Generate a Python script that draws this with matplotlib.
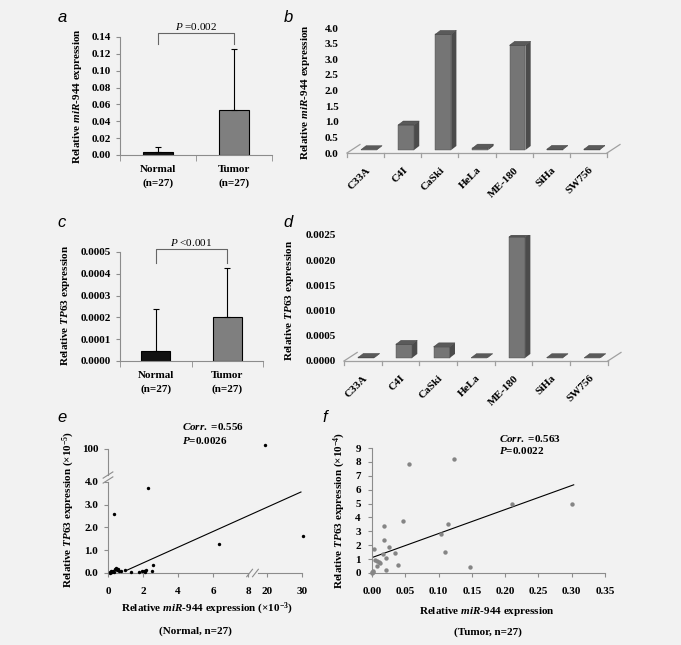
import matplotlib
matplotlib.use("Agg")
import matplotlib.pyplot as plt
from matplotlib.patches import Polygon
import numpy as np


W, H = 681, 645
BG = "#f2f2f2"
AXIS_GRAY = "#8c8c8c"

# panels a and c: mean expression with upper SD
groups = ["Normal\n(n=27)", "Tumor\n(n=27)"]
mir944_mean = [0.003, 0.053]
mir944_err = [0.007, 0.073]
tp63_mean = [0.000045, 0.0002]
tp63_err = [0.000192, 0.000225]

# panels b and d: cell lines
cell_lines = ["C33A", "C4I", "CaSki", "HeLa", "ME-180", "SiHa", "SW756"]
cell_mir944 = [0.01, 0.8, 3.7, 0.06, 3.35, 0.02, 0.02]
cell_tp63 = [0.00001, 0.00027, 0.00022, 0.000005, 0.0024, 0.000005, 0.000005]

# panel e: normal tissue (miR-944 x1e-3, TP63 x1e-5)
normal_mir944 = [0.10, 0.15, 0.20, 0.28, 0.33, 0.38, 0.45, 0.50, 0.55, 0.62,
                 0.75, 1.00, 1.30, 1.75, 1.95, 2.05, 2.20, 2.50, 2.60, 0.34,
                 2.29, 6.36, 30.4, 19.0, 0.12, 0.25, 2.10]
normal_tp63 = [0.05, 0.08, 0.04, 0.10, 0.06, 0.18, 0.20, 0.12, 0.17, 0.10,
               0.08, 0.12, 0.03, 0.04, 0.08, 0.10, 0.13, 0.08, 0.35, 2.58,
               3.74, 1.29, 1.61, 112.0, 0.02, 0.03, 0.06]
normal_fit_x = [1.1, 29.7]
normal_fit_y = [0.13, 3.56]

# panel f: tumor tissue (TP63 x1e-4)
tumor_mir944 = [0.0015, 0.0, 0.0025, 0.005, 0.0075, 0.01, 0.016, 0.0175,
                0.0175, 0.0205, 0.0215, 0.0255, 0.034, 0.0395, 0.046, 0.055,
                0.1035, 0.11, 0.1135, 0.1235, 0.147, 0.211, 0.301, 0.0005,
                0.002, 0.012, 0.008]
tumor_tp63 = [0.12, 0.07, 1.74, 0.92, 0.48, 0.80, 1.40, 2.41, 3.42, 1.06,
              0.24, 1.86, 1.45, 0.60, 3.76, 7.84, 2.82, 1.52, 3.52, 8.20,
              0.43, 5.00, 4.95, 0.03, 0.08, 0.70, 0.85]
tumor_fit_x = [0.0, 0.303]
tumor_fit_y = [1.11, 6.35]

plt.rcParams["font.family"] = "Liberation Serif"
plt.rcParams["font.weight"] = "bold"
plt.rcParams["font.size"] = 8
plt.rcParams["mathtext.fontset"] = "custom"
plt.rcParams["mathtext.rm"] = "Liberation Serif:bold"
plt.rcParams["mathtext.bf"] = "Liberation Serif:bold"
plt.rcParams["mathtext.it"] = "Liberation Serif:italic:bold"
plt.rcParams["mathtext.sf"] = "Liberation Serif:italic:normal"

fig = plt.figure(figsize=(W / 100, H / 100), dpi=100, facecolor=BG)


def rect(x0, y0, x1, y1):
    # pixel box (top-left origin) -> figure fraction
    return [x0 / W, 1 - y1 / H, (x1 - x0) / W, (y1 - y0) / H]


def ftext(px, py, s, **kw):
    fig.text(px / W, 1 - py / H, s, **kw)


def style_axes(ax):
    ax.set_facecolor("none")
    for side in ["top", "right"]:
        ax.spines[side].set_visible(False)
    for side in ["left", "bottom"]:
        ax.spines[side].set_color(AXIS_GRAY)
        ax.spines[side].set_linewidth(0.8)
    ax.tick_params(colors=AXIS_GRAY, labelcolor="black", length=3, width=0.8)


def bar_panel(box, means, errs, ymax, yticks, fmt, bracket, ptext):
    ax = fig.add_axes(rect(*box))
    style_axes(ax)
    x = [0.5, 1.5]
    ax.bar(x, means, width=0.4, color=["#111111", "#7f7f7f"],
           edgecolor="black", linewidth=0.8)
    ax.errorbar(x, means, yerr=[[0, 0], errs], fmt="none", ecolor="black",
                elinewidth=0.8, capsize=2.5, capthick=0.8)
    ax.set_xlim(0, 2)
    ax.set_ylim(0, ymax)
    ax.set_yticks(yticks)
    ax.set_yticklabels([fmt % v for v in yticks])
    ax.set_xticks(x)
    ax.set_xticklabels(groups, linespacing=1.7)
    ax.set_xticks([0, 1, 2], minor=True)
    ax.tick_params(axis="x", which="major", length=0, pad=7)
    ax.tick_params(axis="x", which="minor", length=4, color=AXIS_GRAY)
    lo, hi = bracket
    ax.plot([0.5, 0.5, 1.5, 1.5], [lo, hi, hi, lo], color="#666666",
            lw=0.8, clip_on=False)
    ax.text(1.0, hi + ymax * 0.012, ptext, ha="center", va="bottom",
            fontweight="normal", fontsize=8)
    return ax


def bar3d_panel(box, values, ymax, yticks, fmt):
    ax = fig.add_axes(rect(*box))
    ax.set_facecolor("none")
    for side in ax.spines:
        ax.spines[side].set_visible(False)
    n = len(values)
    ax.set_xlim(-0.5, n - 0.5 + 0.35)
    ax.set_ylim(0, ymax)
    floor_dy = 0.068 * ymax
    line_kw = dict(color="#a0a0a0", lw=0.9, clip_on=False)
    ax.plot([-0.5, n - 0.5], [0, 0], **line_kw)
    ax.plot([-0.5, -0.15], [0, floor_dy], **line_kw)
    ax.plot([n - 0.5, n - 0.15], [0, floor_dy], **line_kw)
    for k in range(n + 1):
        ax.plot([k - 0.5, k - 0.5], [0, -0.03 * ymax], **line_kw)

    w, shift = 0.43, 0.09
    dx, dy, b0 = 0.14, 0.032 * ymax, 0.024 * ymax
    for i, v in enumerate(values):
        x0 = i - w / 2 + shift
        x1 = x0 + w
        top = b0 + v
        ax.bar(i + shift, v, width=w, bottom=b0, color="#757575",
               edgecolor="#4a4a4a", linewidth=0.3)
        ax.add_patch(Polygon([(x1, b0), (x1 + dx, b0 + dy),
                              (x1 + dx, top + dy), (x1, top)],
                             facecolor="#4b4b4b", edgecolor="none"))
        ax.add_patch(Polygon([(x0, top), (x1, top), (x1 + dx, top + dy),
                              (x0 + dx, top + dy)],
                             facecolor="#5a5a5a", edgecolor="#3a3a3a",
                             linewidth=0.3))
    ax.set_yticks(yticks)
    ax.set_yticklabels([fmt % v for v in yticks])
    ax.set_xticks(range(n))
    ax.set_xticklabels(cell_lines, rotation=45, ha="right", va="top",
                       rotation_mode="anchor")
    ax.tick_params(axis="y", length=0, pad=6)
    ax.tick_params(axis="x", length=0, pad=9)
    return ax


# ---- a ----
bar_panel((120, 37, 272, 155), mir944_mean, mir944_err, 0.14,
          np.arange(0, 0.141, 0.02), "%.2f", (0.132, 0.1445),
          r"$\mathsf{P}$ =0.002")
ftext(77, 96, r"Relative $\mathit{miR}$-$\mathit{944}$ expression",
      rotation=90, ha="center", va="center")

# ---- c ----
bar_panel((120, 252, 263, 361), tp63_mean, tp63_err, 0.0005,
          np.arange(0, 0.00051, 0.0001), "%.4f", (0.00045, 0.000514),
          r"$\mathsf{P}$ <0.001")
ftext(65, 305, r"Relative $\mathit{TP63}$ expression",
      rotation=90, ha="center", va="center")

# ---- b ----
bar3d_panel((347, 28, 620, 153), cell_mir944, 4.0,
            np.arange(0, 4.01, 0.5), "%.1f")
ftext(305, 92, r"Relative $\mathit{miR}$-$\mathit{944}$ expression",
      rotation=90, ha="center", va="center")

# ---- d ----
bar3d_panel((344, 235, 621, 361), cell_tp63, 0.0025,
            np.arange(0, 0.00251, 0.0005), "%.4f")
ftext(290, 300, r"Relative $\mathit{TP63}$ expression",
      rotation=90, ha="center", va="center")


# ---- e: broken axes through a piecewise scale ----
def fwd_x(x):
    x = np.asarray(x, dtype=float)
    return np.where(x <= 8, x,
                    np.where(x < 20, 8 + (x - 8) * 1.09 / 12,
                             9.09 + (x - 20) * 0.2))


def inv_x(u):
    u = np.asarray(u, dtype=float)
    return np.where(u <= 8, u,
                    np.where(u < 9.09, 8 + (u - 8) * 12 / 1.09,
                             20 + (u - 9.09) / 0.2))


def fwd_y(y):
    y = np.asarray(y, dtype=float)
    return np.where(y <= 4, y, 4 + (y - 4) * 1.45 / 96)


def inv_y(u):
    u = np.asarray(u, dtype=float)
    return np.where(u <= 4, u, 4 + (u - 4) * 96 / 1.45)


ax = fig.add_axes(rect(108, 449, 302, 573))
style_axes(ax)
ax.set_xscale("function", functions=(fwd_x, inv_x))
ax.set_yscale("function", functions=(fwd_y, inv_y))
ax.set_xlim(0, 30)
ax.set_ylim(0, 100)
ax.spines["left"].set_visible(False)
ax.spines["bottom"].set_visible(False)
sp = dict(color=AXIS_GRAY, lw=0.8, clip_on=False)
ax.plot([0, 0], [0, 4.0], **sp)
ax.plot([0, 0], [inv_y(4.3), 100], **sp)
ax.plot([0, 8.15], [0, 0], **sp)
ax.plot([inv_x(8.55), 30], [0, 0], **sp)
tr = ax.transAxes
ax.plot([-0.025, 0.025], [0.725, 0.775], transform=tr, **sp)
ax.plot([-0.025, 0.025], [0.765, 0.815], transform=tr, **sp)
ax.plot([0.715, 0.745], [-0.03, 0.03], transform=tr, **sp)
ax.plot([0.745, 0.775], [-0.03, 0.03], transform=tr, **sp)
ax.scatter(normal_mir944, normal_tp63, s=6, color="black", zorder=3,
           clip_on=False, linewidths=0)
ax.plot(normal_fit_x, normal_fit_y, color="black", lw=0.8)
ax.set_xticks([0, 2, 4, 6, 8, 20, 30])
ax.set_xticklabels(["0", "2", "4", "6", "8", "20", "30"])
ax.set_yticks([0, 1, 2, 3, 4, 100])
ax.set_yticklabels(["0.0", "1.0", "2.0", "3.0", "4.0", "100"])
ax.tick_params(axis="x", pad=7)
ax.tick_params(axis="y", pad=4)
ftext(182, 427, r"$\mathit{Corr.}$ =0.556", ha="left", va="center")
ftext(182, 441, r"$\mathit{P}$=0.0026", ha="left", va="center")
ftext(69, 509, r"Relative $\mathit{TP63}$ expression (×$10^{-5}$)",
      rotation=90, ha="center", va="center")
ftext(207, 609, r"Relative $\mathit{miR}$-$\mathit{944}$ expression (×$10^{-3}$)",
      ha="center", va="center")
ftext(195, 631, "(Normal, n=27)", ha="center", va="center")

# ---- f ----
ax = fig.add_axes(rect(372, 448, 605, 573))
style_axes(ax)
ax.scatter(tumor_mir944, tumor_tp63, s=10, color="#858585", zorder=3,
           clip_on=False, linewidths=0)
ax.plot(tumor_fit_x, tumor_fit_y, color="black", lw=0.8)
ax.set_xlim(0, 0.35)
ax.set_ylim(0, 9)
ax.set_xticks(np.arange(0, 0.351, 0.05))
ax.set_xticklabels(["%.2f" % v for v in np.arange(0, 0.351, 0.05)])
ax.set_yticks(range(10))
ax.tick_params(axis="x", pad=7)
ax.tick_params(axis="y", pad=5)
ftext(499, 438, r"$\mathit{Corr.}$ =0.563", ha="left", va="center")
ftext(499, 451, r"$\mathit{P}$=0.0022", ha="left", va="center")
ftext(340, 510, r"Relative $\mathit{TP63}$ expression (×$10^{-4}$)",
      rotation=90, ha="center", va="center")
ftext(487, 611, r"Relative $\mathit{miR}$-$\mathit{944}$ expression",
      ha="center", va="center")
ftext(488, 632, "(Tumor, n=27)", ha="center", va="center")

# panel letters
for letter, px, py in [("a", 62, 17), ("b", 288, 17), ("c", 62, 222),
                       ("d", 288, 222), ("e", 62, 417), ("f", 325, 417)]:
    ftext(px, py, letter, family="Liberation Sans", style="italic",
          fontweight="normal", fontsize=12, ha="center", va="center")

fig.savefig("out.png", dpi=100, facecolor=BG)
